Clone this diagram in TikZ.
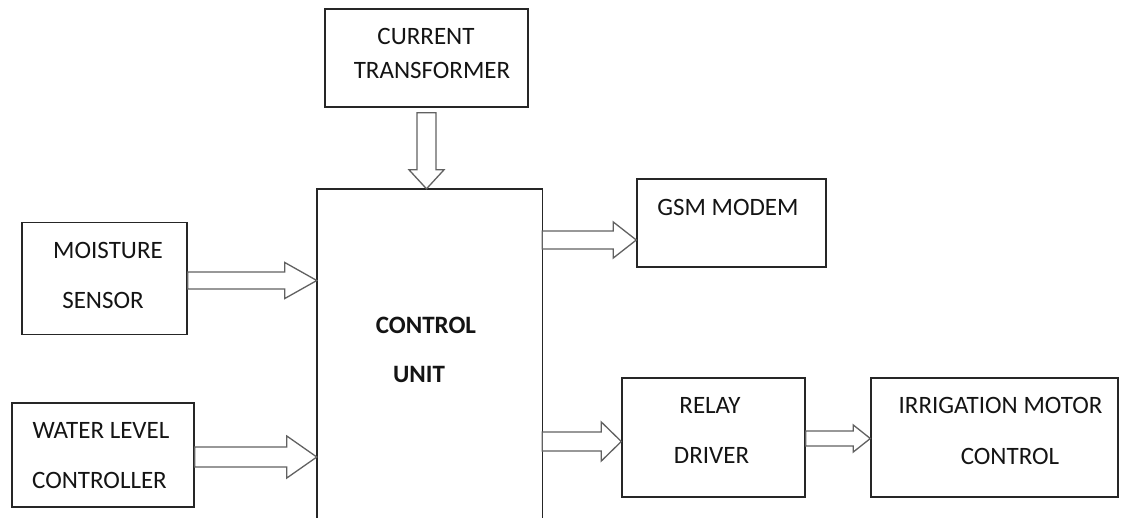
\documentclass[tikz,border=0pt]{standalone}
\usepackage{fontspec}
\setmainfont{Carlito}
\usetikzlibrary{calc}
\tikzset{
  blockbox/.style={draw=black!85, line width=1.4pt, fill=none, inner sep=0pt, minimum width=#1},
  lbl/.style={inner sep=0pt, text=black!92, font=\fontsize{25}{30}\selectfont},
  blbl/.style={lbl, font=\fontsize{25}{30}\selectfont\bfseries},
  barrow/.style={draw=black!62, line width=1.3pt, line join=miter, fill=white}
}
\newcommand\harr[6]{%
  \draw[barrow] ($(#1.east |- 0,#3)+(0,-#4)$) -- ($(#2.west |- 0,#3)+(-#6,-#4)$)
    -- ($(#2.west |- 0,#3)+(-#6,-#5)$) -- (#2.west |- 0,#3)
    -- ($(#2.west |- 0,#3)+(-#6,#5)$) -- ($(#2.west |- 0,#3)+(-#6,#4)$)
    -- ($(#1.east |- 0,#3)+(0,#4)$) -- cycle;}
\begin{document}
\begin{tikzpicture}[x=1pt, y=-1pt]
\useasboundingbox[fill=white] (0,0) rectangle (1127,517);
% boxes
\node[blockbox=203pt, minimum height=98pt] (ct) at (426.5,58) {};
\node[blockbox=165pt, minimum height=112pt] (ms) at (104.5,278.5) {};
\node[blockbox=182pt, minimum height=104pt] (wl) at (103,455) {};
\node[inner sep=0pt, minimum width=225pt, minimum height=340pt] (cu) at (429.5,359) {};
\draw[draw=black!85, line width=1.4pt] (cu.south west) -- (cu.north west) -- (cu.north east) -- (cu.south east);
\node[blockbox=189pt, minimum height=88pt] (gsm) at (731.5,223) {};
\node[blockbox=183pt, minimum height=119pt] (rd) at (713.5,437.5) {};
\node[blockbox=247pt, minimum height=119pt] (im) at (994.5,437.5) {};
% texts
\node[lbl] (ct1) at (426,36.5) {CURRENT};
\node[lbl] (ct2) at (432,70.5) {TRANSFORMER};
\node[lbl] (ms1) at (108,250) {MOISTURE};
\node[lbl] (ms2) at (103,300.5) {SENSOR};
\node[lbl] (wl1) at (101,430) {WATER LEVEL};
\node[lbl] (wl2) at (99.5,480) {CONTROLLER};
\node[blbl] (cu1) at (426,325) {CONTROL};
\node[blbl] (cu2) at (419,374.5) {UNIT};
\node[lbl] (gsm1) at (728,207.5) {GSM MODEM};
\node[lbl] (rd1) at (710,405.5) {RELAY};
\node[lbl] (rd2) at (711.5,455.5) {DRIVER};
\node[lbl] (im1) at (1000.5,405.5) {IRRIGATION MOTOR};
\node[lbl] (im2) at (1010,456) {CONTROL};
% arrows
\coordinate (cttip) at (ct.south |- cu.north);
\draw[barrow] ($(ct.south)+(-9.5,5)$) -- ($(cttip)+(-9.5,-19)$) -- ($(cttip)+(-17.5,-19)$)
  -- (cttip) -- ($(cttip)+(17.5,-19)$) -- ($(cttip)+(9.5,-19)$) -- ($(ct.south)+(9.5,5)$) -- cycle;
\harr{ms}{cu}{280.5}{8.5}{18}{32}
\harr{wl}{cu}{457}{10}{21}{30}
\harr{cu}{gsm}{240}{9}{18}{23}
\harr{cu}{rd}{441.5}{9.5}{19.5}{20}
\harr{rd}{im}{438.5}{7.5}{13.5}{17}
\end{tikzpicture}
\end{document}
